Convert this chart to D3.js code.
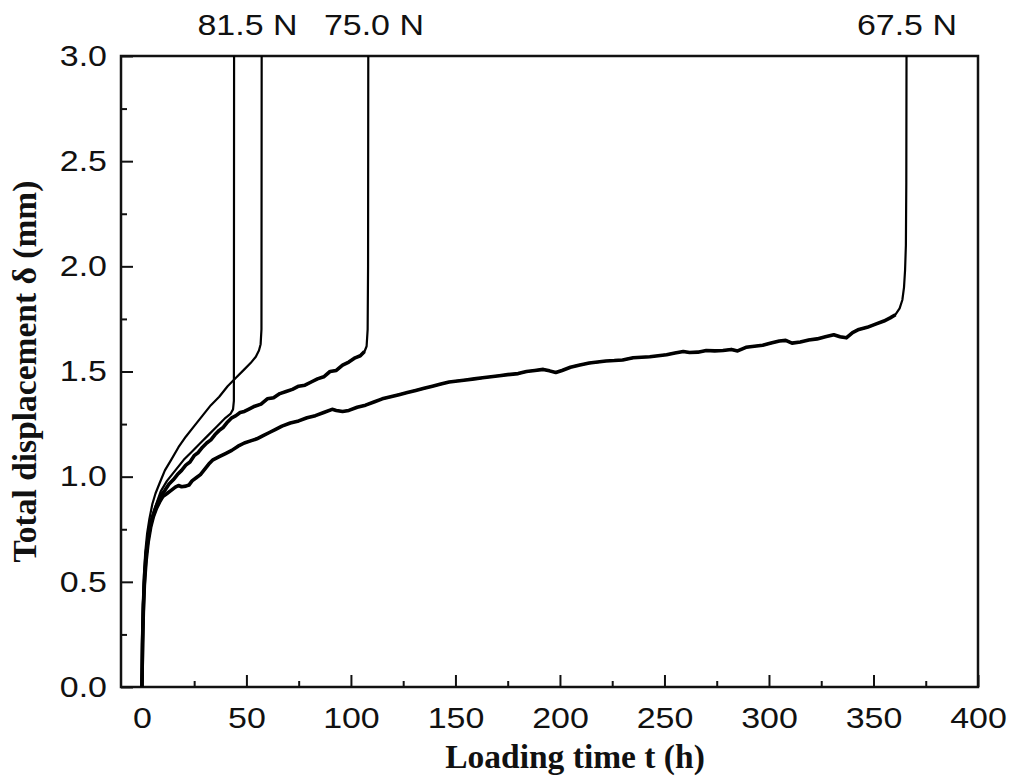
<!DOCTYPE html>
<html>
<head>
<meta charset="utf-8">
<script src="https://cdn.jsdelivr.net/npm/d3@7"></script>
<style>
  body { margin: 0; background: #fff; }
  .tick text { font-family: "Liberation Sans", Arial, sans-serif; font-size: 29px; fill: #111; }
  .title { font-family: "Liberation Serif", "Times New Roman", serif; font-weight: bold; font-size: 33.5px; fill: #111; }
  .load { font-family: "Liberation Sans", Arial, sans-serif; font-size: 29px; fill: #111; }
</style>
</head>
<body>
<div id="chart"></div>
<script>
// x: loading time (h), y: total displacement (mm)
const xTicks = [0, 50, 100, 150, 200, 250, 300, 350, 400];
const yTicks = [0, 0.5, 1.0, 1.5, 2.0, 2.5, 3.0];

// 81.5 N, specimen that failed at ~57 h (smooth upper curve)
const timeA = [0, 0.2, 0.5, 1, 1.6, 2.5, 3.6, 5, 6.5, 8.5, 11, 14, 17.5, 21, 25, 29, 33, 37, 41, 45, 49, 52, 54.5, 56, 56.8, 57.2, 57.3];
const dispA = [0, 0.22, 0.4, 0.54, 0.64, 0.73, 0.8, 0.87, 0.92, 0.97, 1.03, 1.08, 1.14, 1.19, 1.24, 1.29, 1.34, 1.38, 1.43, 1.47, 1.51, 1.54, 1.57, 1.6, 1.63, 1.7, 3.0];

// 81.5 N, specimen that failed at ~44 h
const timeB = [0, 0.3, 0.7, 1.3, 2, 3, 4.5, 6.5, 9, 12, 16, 20, 24, 28, 32, 36, 40, 42.5, 43.6, 44, 44.1];
const dispB = [0, 0.22, 0.4, 0.54, 0.64, 0.72, 0.8, 0.86, 0.93, 0.98, 1.03, 1.08, 1.12, 1.16, 1.2, 1.24, 1.28, 1.3, 1.32, 1.36, 3.0];

// 75.0 N
const timeC = [0, 0.3, 0.7, 1.3, 2, 3, 4.5, 6.5, 9, 11, 13, 15, 17, 19, 21, 23, 25, 27, 29, 31, 33, 35, 37, 39, 41, 43, 45, 47, 49, 51, 54, 57, 60, 63, 66, 69, 72, 75, 78, 81, 84, 87, 90, 93, 96, 99, 102, 104.5, 106.5, 107.5, 108, 108.2, 108.3];
const dispC = [0, 0.21, 0.39, 0.53, 0.63, 0.71, 0.79, 0.85, 0.91, 0.935, 0.965, 0.985, 1.01, 1.03, 1.055, 1.07, 1.10, 1.115, 1.14, 1.16, 1.175, 1.20, 1.22, 1.235, 1.26, 1.28, 1.29, 1.305, 1.31, 1.32, 1.335, 1.345, 1.37, 1.375, 1.395, 1.405, 1.415, 1.43, 1.435, 1.45, 1.465, 1.475, 1.50, 1.505, 1.53, 1.545, 1.565, 1.575, 1.595, 1.62, 1.7, 2.0, 3.0];

// 67.5 N
const timeD = [0, 0.3, 0.7, 1.2, 2, 3, 4.2, 5.5, 7, 8.5, 10, 12, 14, 16, 17.5, 19, 21, 22.5, 24, 26, 28, 30, 32, 34, 37, 40, 43, 46, 49, 52, 55, 58, 61, 64, 67, 71, 75, 79, 83, 87, 91, 93, 96, 99, 103, 107, 111, 115, 119, 123, 127, 131, 135, 139, 143, 147, 151, 155, 159, 163, 167, 171, 175, 180, 184, 188, 192, 195, 198, 201, 205, 209, 214, 218, 222, 226, 230, 235, 239, 243, 247, 251, 255, 259, 262, 266, 270, 274, 278, 282, 285, 289, 293, 297, 301, 305, 308, 311, 315, 319, 323, 327, 331, 334, 337, 340, 343, 347, 351, 355, 358, 360.5, 362.5, 363.8, 364.6, 365.1, 365.5, 365.7, 365.8];
const dispD = [0, 0.2, 0.36, 0.49, 0.6, 0.69, 0.76, 0.81, 0.85, 0.88, 0.905, 0.92, 0.935, 0.95, 0.958, 0.952, 0.955, 0.96, 0.98, 0.995, 1.01, 1.035, 1.06, 1.08, 1.095, 1.11, 1.125, 1.145, 1.16, 1.17, 1.18, 1.195, 1.21, 1.225, 1.24, 1.255, 1.265, 1.28, 1.29, 1.305, 1.32, 1.315, 1.31, 1.315, 1.33, 1.34, 1.355, 1.37, 1.38, 1.39, 1.40, 1.41, 1.42, 1.43, 1.44, 1.45, 1.455, 1.46, 1.465, 1.47, 1.475, 1.48, 1.485, 1.49, 1.5, 1.505, 1.51, 1.503, 1.495, 1.505, 1.52, 1.53, 1.54, 1.545, 1.55, 1.552, 1.555, 1.565, 1.568, 1.57, 1.575, 1.58, 1.588, 1.595, 1.59, 1.592, 1.6, 1.598, 1.6, 1.605, 1.598, 1.615, 1.62, 1.625, 1.635, 1.645, 1.648, 1.635, 1.64, 1.65, 1.655, 1.665, 1.675, 1.665, 1.66, 1.685, 1.7, 1.71, 1.725, 1.74, 1.755, 1.77, 1.8, 1.84, 1.9, 1.98, 2.1, 2.4, 3.0];

// load labels above the frame, placed at the failure times
const loadLabels = ["81.5 N", "75.0 N", "67.5 N"];
const loadLabelTimes = [50.5, 111, 366];

const width = 1011, height = 778;
const margin = { top: 56, right: 33, bottom: 91, left: 121 };
const stretch = 1.17; // the reference lettering is a little wider than Liberation Sans

const svg = d3.select("#chart").append("svg")
    .attr("width", width)
    .attr("height", height);

const x = d3.scaleLinear().domain([-10, 400]).range([margin.left, width - margin.right]);
const y = d3.scaleLinear().domain([0, 3]).range([height - margin.bottom, margin.top]);

// minor ticks first
svg.append("g")
    .attr("transform", `translate(0,${y(0)})`)
    .call(d3.axisBottom(x).tickValues(d3.range(25, 400, 50)).tickSize(-6).tickFormat(""))
    .call(g => g.select(".domain").remove())
    .selectAll("line").attr("stroke", "#111").attr("stroke-width", 2);

svg.append("g")
    .attr("transform", `translate(${x(-10)},0)`)
    .call(d3.axisLeft(y).tickValues(d3.range(0.25, 3, 0.5)).tickSize(-6).tickFormat(""))
    .call(g => g.select(".domain").remove())
    .selectAll("line").attr("stroke", "#111").attr("stroke-width", 2);

// major ticks + labels
const xAxis = svg.append("g")
    .attr("transform", `translate(0,${y(0)})`)
    .call(d3.axisBottom(x).tickValues(xTicks).tickSize(-12).tickPadding(20).tickFormat(d3.format("d")));
xAxis.select(".domain").remove();
xAxis.selectAll("line").attr("stroke", "#111").attr("stroke-width", 2);
xAxis.selectAll("text").attr("transform", `scale(${stretch},1)`);

const yAxis = svg.append("g")
    .attr("transform", `translate(${x(-10)},0)`)
    .call(d3.axisLeft(y).tickValues(yTicks).tickSize(-12).tickPadding(12).tickFormat(d3.format(".1f")));
yAxis.select(".domain").remove();
yAxis.selectAll("line").attr("stroke", "#111").attr("stroke-width", 2);
yAxis.selectAll("text").attr("transform", `scale(${stretch},1)`);

// frame
svg.append("rect")
    .attr("x", x(-10))
    .attr("y", y(3))
    .attr("width", x(400) - x(-10))
    .attr("height", y(0) - y(3))
    .attr("fill", "none")
    .attr("stroke", "#111")
    .attr("stroke-width", 2.5);

const line = d3.line()
    .x(d => x(d[0]))
    .y(d => y(d[1]));

// noisy records look thicker along the creep part, thin on the final jump
const series = [
    { t: timeA, d: dispA, w: 2.2, thickTo: 0 },
    { t: timeB, d: dispB, w: 2.2, thickTo: 0 },
    { t: timeC, d: dispC, w: 2.2, thickTo: 1.6 },
    { t: timeD, d: dispD, w: 2.2, thickTo: 1.78 }
];

const curves = svg.append("g");

curves.selectAll("path.full")
    .data(series)
    .join("path")
    .attr("class", "full")
    .attr("d", s => line(d3.zip(s.t, s.d)))
    .attr("fill", "none")
    .attr("stroke", "#000")
    .attr("stroke-width", s => s.w)
    .attr("stroke-linejoin", "round");

curves.selectAll("path.noisy")
    .data(series.filter(s => s.thickTo > 0))
    .join("path")
    .attr("class", "noisy")
    .attr("d", s => line(d3.zip(s.t, s.d).filter(p => p[1] <= s.thickTo)))
    .attr("fill", "none")
    .attr("stroke", "#000")
    .attr("stroke-width", 3.6)
    .attr("stroke-linejoin", "round");

// load labels
svg.append("g").selectAll("text")
    .data(loadLabels)
    .join("text")
    .attr("class", "load")
    .attr("transform", (d, i) => `translate(${x(loadLabelTimes[i])},35) scale(${stretch},1)`)
    .attr("text-anchor", "middle")
    .text(d => d);

// axis titles
svg.append("text")
    .attr("class", "title")
    .attr("x", 575)
    .attr("y", 768)
    .attr("text-anchor", "middle")
    .text("Loading time t (h)");

svg.append("text")
    .attr("class", "title")
    .attr("transform", `translate(36,${(y(0) + y(3)) / 2}) rotate(-90)`)
    .attr("text-anchor", "middle")
    .text("Total displacement δ (mm)");
</script>
</body>
</html>
